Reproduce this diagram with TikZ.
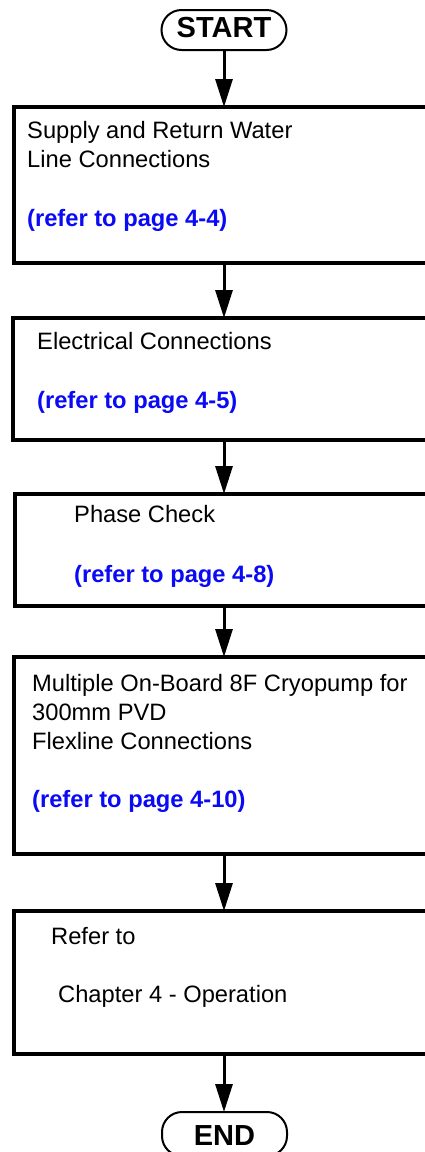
\documentclass[tikz,border=0pt]{standalone}
\usepackage{fontspec}
\setmainfont{Liberation Sans}
\usetikzlibrary{arrows.meta}
\definecolor{refblue}{RGB}{10,10,245}
\begin{document}
\begin{tikzpicture}[x=1pt,y=-1pt,
  stepbox/.style={draw, line width=3.2pt, rectangle, anchor=north west, minimum width=426pt, inner sep=0pt, outer sep=0pt},
  oval/.style={draw, line width=2pt, rounded corners=20pt, minimum width=125pt, minimum height=40pt, inner sep=0pt, outer sep=0pt, font=\fontsize{29}{34}\selectfont\bfseries},
  conn/.style={line width=3pt, -{Triangle[length=28pt,width=17pt]}},
  lbl/.style={anchor=base west, inner sep=0pt, font=\fontsize{23.7}{28.7}\selectfont},
  reflbl/.style={lbl, font=\fontsize{23.7}{28.7}\selectfont\bfseries, text=refblue}]
\useasboundingbox (0,0) rectangle (425,1152);
\clip (0,0) rectangle (425,1152);
\fill[white] (0,0) rectangle (425,1152);

\node[oval, text height=19pt, text depth=5pt] (start) at (224,30) {START};
\node[stepbox, minimum height=156pt] (b1) at (14,107) {};
\node[stepbox, minimum height=122pt] (b2) at (13,318) {};
\node[stepbox, minimum height=112pt] (b3) at (15,494) {};
\node[stepbox, minimum height=197pt] (b4) at (14,657) {};
\node[stepbox, minimum height=143pt] (b5) at (14,911) {};
\node[oval, minimum height=44pt, text height=23pt, text depth=0pt] (endn) at (224.5,1134) {END};

\node[lbl] (t1a) at (27,138) {Supply and Return Water};
\node[lbl] (t1b) at (27,167) {Line Connections};
\node[reflbl] (r1) at (27,226) {(refer to page 4-4)};

\node[lbl] (t2a) at (37,349) {Electrical Connections};
\node[reflbl] (r2) at (37,408) {(refer to page 4-5)};

\node[lbl] (t3a) at (74,522) {Phase Check};
\node[reflbl] (r3) at (74,582) {(refer to page 4-8)};

\node[lbl] (t4a) at (32,691) {Multiple On-Board 8F Cryopump for};
\node[lbl] (t4b) at (32,720) {300mm PVD};
\node[lbl] (t4c) at (32,749) {Flexline Connections};
\node[reflbl] (r4) at (32,807) {(refer to page 4-10)};

\node[lbl] (t5a) at (51,944) {Refer to};
\node[lbl] (t5b) at (58,1002) {Chapter 4 - Operation};

\draw[conn] (start.south) -- (start.south |- b1.north);
\draw[conn] (b1.south -| start) -- (b2.north -| start);
\draw[conn] (b2.south -| start) -- (b3.north -| start);
\draw[conn] (b3.south -| start) -- (b4.north -| start);
\draw[conn] (b4.south -| start) -- (b5.north -| start);
\draw[conn] (b5.south -| start) -- (endn.north -| start);
\end{tikzpicture}
\end{document}
